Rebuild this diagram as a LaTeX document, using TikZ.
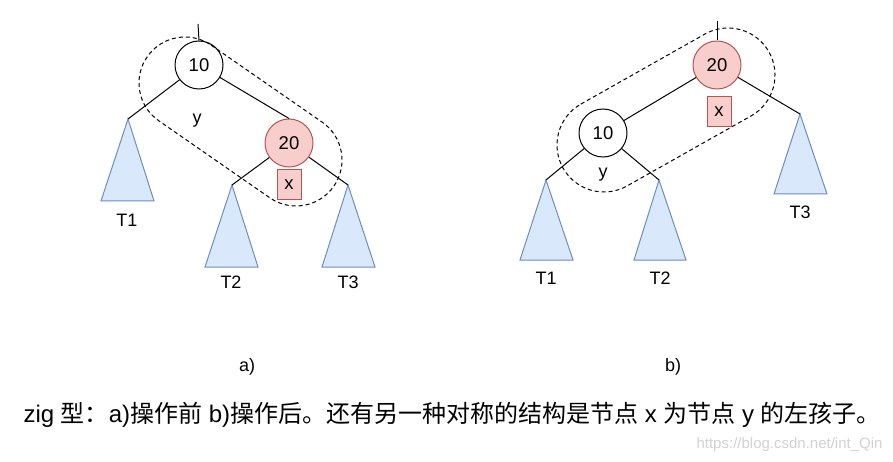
\documentclass[tikz,border=0pt]{standalone}
\usepackage{fontspec}
\setmainfont{Liberation Sans}
\newfontfamily\cjk{Noto Sans CJK SC}
\usetikzlibrary{calc}
\definecolor{redfill}{HTML}{F8CECC}
\definecolor{redline}{HTML}{B85450}
\definecolor{bluefill}{HTML}{DAE8FC}
\definecolor{blueline}{HTML}{6C8EBF}
\begin{document}
\begin{tikzpicture}[x=1pt,y=-1pt,line width=1pt,
  tnode/.style={circle,draw=black,fill=white,minimum size=48pt,inner sep=0pt,font=\fontsize{18.5}{18.5}\selectfont},
  rednode/.style={fill=redfill,draw=redline},
  xbox/.style={rectangle,draw=redline,fill=redfill,minimum width=24pt,minimum height=30pt,inner sep=0pt,font=\fontsize{18.5}{18.5}\selectfont},
  tri/.style={fill=bluefill,draw=blueline},
  lbl/.style={inner sep=0pt,font=\fontsize{18}{18}\selectfont},
  loop/.style={dashed,dash pattern=on 4pt off 3pt,line width=1pt}]
\useasboundingbox (0,0) rectangle (893,462);
% ---------- panel a ----------
\node[tnode] (a10) at (199,65) {10};
\node[tnode,rednode] (a20) at (289,143) {20};
\node[xbox] (ax) at (289,185) {x};
\coordinate (atop) at (198,24);
\coordinate (aT1) at (128,119);
\coordinate (aT2) at (232,185);
\coordinate (aT3) at (348,185);
\draw[tri] (aT1) -- (154,201) -- (101,201) -- cycle;
\draw[tri] (aT2) -- (258,267) -- (205,267) -- cycle;
\draw[tri] (aT3) -- (375,267) -- (322,267) -- cycle;
\draw (atop) -- (a10.north);
\draw (a10) -- (a20.north);
\draw (a10) -- (aT1);
\draw (a20) -- (aT2);
\draw (a20) -- (aT3);
\node[lbl] (ay) at (197,121) {y};
\node[lbl] (aT1l) at (127,220) {T1};
\node[lbl] (aT2l) at (231,282) {T2};
\node[lbl] (aT3l) at (348,282) {T3};
\coordinate (ac1) at (185,83);
\coordinate (ac2) at (296,160);
\draw[loop] ($(ac1)+(-55.25:46)$) -- ($(ac2)+(-55.25:46)$) arc[start angle=-55.25,delta angle=180,radius=46]
  -- ($(ac1)+(124.75:46)$) arc[start angle=124.75,delta angle=180,radius=46] -- cycle;
% ---------- panel b ----------
\node[tnode,rednode] (b20) at (717,65) {20};
\node[tnode] (b10) at (603,133) {10};
\node[xbox] (bx) at (719,112) {x};
\coordinate (btop) at (717,21);
\coordinate (bT1) at (546,180);
\coordinate (bT2) at (659,180);
\coordinate (bT3) at (800,114);
\draw[tri] (bT1) -- (573,260) -- (520,260) -- cycle;
\draw[tri] (bT2) -- (686,260) -- (634,260) -- cycle;
\draw[tri] (bT3) -- (827,194) -- (774,194) -- cycle;
\draw (btop) -- (b20.north);
\draw (b20) -- (b10);
\draw (b20) -- (bT3);
\draw (b10) -- (bT1);
\draw (b10) -- (bT2);
\node[lbl] (by) at (603,175) {y};
\node[lbl] (bT1l) at (546,278) {T1};
\node[lbl] (bT2l) at (660,278) {T2};
\node[lbl] (bT3l) at (800,212) {T3};
\coordinate (bc1) at (604,145);
\coordinate (bc2) at (728,75);
\draw[loop] ($(bc1)+(-119.5:47)$) -- ($(bc2)+(-119.5:47)$) arc[start angle=-119.5,delta angle=180,radius=47]
  -- ($(bc1)+(60.5:47)$) arc[start angle=60.5,delta angle=180,radius=47] -- cycle;
% ---------- captions ----------
\node[lbl] (capa) at (247,367) {a)};
\node[lbl] (capb) at (673,367) {b)};
\node[inner sep=0pt,anchor=base west,font=\fontsize{24}{28}\selectfont] (cap) at (23,422)
  {zig {\cjk 型：}a){\cjk 操作前} b){\cjk 操作后。还有另一种对称的结构是节点} x {\cjk 为节点} y {\cjk 的左孩子。}};
\node[inner sep=0pt,anchor=base east,text=black!18,font=\fontsize{15}{15}\selectfont] (wm) at (883,448) {https://blog.csdn.net/int\_Qin};
\end{tikzpicture}
\end{document}
